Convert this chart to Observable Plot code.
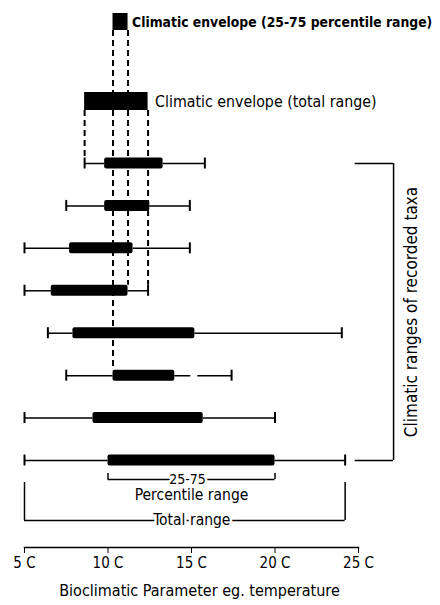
<!DOCTYPE html>
<html><head><meta charset="utf-8">
<script src="https://cdn.jsdelivr.net/npm/d3@7"></script>
<script src="https://cdn.jsdelivr.net/npm/@observablehq/plot@0.6"></script>
<style>
body{margin:0;background:#fff;}
#chart svg{display:block}
</style></head><body><div id="chart"></div>
<script>
// ---- data ----
const taxa     = [1, 2, 3, 4, 5, 6, 7, 8];
const minVals  = [8.6, 7.5, 5.0, 5.0, 6.4, 7.5, 5.0, 5.0];
const q1Vals   = [9.8, 9.8, 7.7, 6.6, 7.9, 10.3, 9.1, 10.0];
const q3Vals   = [13.3, 12.5, 11.5, 11.2, 15.2, 14.0, 15.7, 20.0];
const maxVals  = [15.8, 14.9, 14.9, 12.4, 24.0, 17.4, 20.0, 24.2];
const dashedRightWhisker = [false, false, false, false, false, true, false, false];
const tickValues = [5, 10, 15, 20, 25];
const tickLabels = ["5 C", "10 C", "15 C", "20 C", "25 C"];
const envelopeLabels = ["Climatic envelope (25-75 percentile range)", "Climatic envelope (total range)"];
const keyLabels = ["25-75", "Percentile range", "Total range"];
const sideLabel = "Climatic ranges of recorded taxa";
const axisTitle = "Bioclimatic Parameter eg. temperature";

// ---- table ----
const rows = taxa.map((t, i) => ({row: t, min: minVals[i], q1: q1Vals[i], q3: q3Vals[i], max: maxVals[i], dashed: dashedRightWhisker[i]}));

// envelopes derived from the data
const pLo = d3.greatest(rows, d => d.q1), pHi = d3.least(rows, d => d.q3);
const tLo = d3.greatest(rows, d => d.min), tHi = d3.least(rows, d => d.max);

// ---- layout (row units; 1 row = PX px) ----
const PX = (460 - 163) / 7;
const u = p => p / PX;
const envPctY = 1 + u(21.5 - 163), envTotY = 1 + u(101 - 163);
const boxH = u(5.5), capH = u(5.5), envPctH = u(8.5), envTotH = u(9);
const last = rows[rows.length - 1];
const brY = last.row + u(19), brTick = u(6);
const pctTextY = last.row + u(35);
const totTop = last.row + u(22), totY = last.row + u(60);
const sideX1 = 24.8, sideX2 = 27.1, sideTextX = 28.2;

const FONT = '"Liberation Sans Narrow", "DejaVu Sans Condensed", "Roboto Condensed", sans-serif';

const dashLines = [
  {x: pLo.q1, y1: envPctY + envPctH, y2: pLo.row - boxH},
  {x: pHi.q3, y1: envPctY + envPctH, y2: pHi.row - boxH},
  {x: tLo.min, y1: envTotY + envTotH, y2: tLo.row - capH},
  {x: tHi.max, y1: envTotY + envTotH, y2: tHi.row - capH}
];

const chart = Plot.plot({
  width: 440, height: 605,
  marginLeft: 24, marginRight: 82, marginTop: 0, marginBottom: 58,
  style: {fontFamily: FONT, fontSize: "15px", color: "#000", background: "#fff"},
  x: {domain: [5, 25]},
  y: {domain: [1, 8], range: [163, 460], axis: null},
  marks: [
    // dashed links from envelopes
    Plot.ruleX(dashLines, {x: "x", y1: "y1", y2: "y2", stroke: "#000", strokeWidth: 2, strokeDasharray: "6,4"}),
    // envelopes
    Plot.rect([{x1: pLo.q1, x2: pHi.q3}], {x1: "x1", x2: "x2", y1: envPctY - envPctH, y2: envPctY + envPctH, fill: "#000"}),
    Plot.rect([{x1: tLo.min, x2: tHi.max}], {x1: "x1", x2: "x2", y1: envTotY - envTotH, y2: envTotY + envTotH, fill: "#000"}),
    Plot.text([envelopeLabels[0]], {x: pHi.q3, y: envPctY, text: d => d, textAnchor: "start", dx: 4, dy: 1, fontWeight: "bold", fontSize: 13.8}),
    Plot.text([envelopeLabels[1]], {x: tHi.max, y: envTotY, text: d => d, textAnchor: "start", dx: 7, fontSize: 15.8}),
    // whiskers
    Plot.ruleY(rows, {y: "row", x1: "min", x2: "q1", stroke: "#000", strokeWidth: 1.5}),
    Plot.ruleY(rows.filter(d => !d.dashed), {y: "row", x1: "q3", x2: "max", stroke: "#000", strokeWidth: 1.5}),
    Plot.ruleY(rows.filter(d => d.dashed), {y: "row", x1: "q3", x2: "max", stroke: "#000", strokeWidth: 1.5, strokeDasharray: "16,7,200"}),
    Plot.ruleX(rows, {x: "min", y1: d => d.row - capH, y2: d => d.row + capH, stroke: "#000", strokeWidth: 2}),
    Plot.ruleX(rows, {x: "max", y1: d => d.row - capH, y2: d => d.row + capH, stroke: "#000", strokeWidth: 2}),
    // boxes
    Plot.rect(rows, {x1: "q1", x2: "q3", y1: d => d.row - boxH, y2: d => d.row + boxH, fill: "#000", rx: 2}),
    // 25-75 key bracket
    Plot.ruleY([last], {y: () => brY, x1: "q1", x2: "q3", stroke: "#000", strokeWidth: 1.5}),
    Plot.ruleX([last.q1, last.q3], {x: d => d, y1: brY - brTick, y2: brY, stroke: "#000", strokeWidth: 1.5}),
    Plot.text([keyLabels[0]], {x: (last.q1 + last.q3) / 2, y: brY, text: d => d, dx: -4, fontSize: 14, stroke: "#fff", strokeWidth: 5, fill: "#000"}),
    Plot.text([keyLabels[1]], {x: (last.q1 + last.q3) / 2, y: pctTextY, text: d => d, fontSize: 15.5}),
    // total range key bracket
    Plot.ruleX([last.min, last.max], {x: d => d, y1: totTop, y2: totY, stroke: "#000", strokeWidth: 1.5}),
    Plot.ruleY([last], {y: () => totY, x1: "min", x2: "max", stroke: "#000", strokeWidth: 1.5}),
    Plot.text([keyLabels[2]], {x: (last.min + last.max) / 2, y: totY, text: d => d, dx: 7, fontSize: 15.5, stroke: "#fff", strokeWidth: 5, fill: "#000"}),
    // side bracket
    Plot.ruleY([rows[0].row, last.row], {y: d => d, x1: sideX1, x2: sideX2, stroke: "#000", strokeWidth: 1.5}),
    Plot.ruleX([sideX2], {x: d => d, y1: rows[0].row, y2: last.row, stroke: "#000", strokeWidth: 1.5}),
    Plot.text([sideLabel], {x: sideTextX, y: (rows[0].row + last.row) / 2, text: d => d, rotate: -90, fontSize: 17}),
    // axis
    Plot.frame({anchor: "bottom", strokeWidth: 1.5}),
    Plot.axisX({ticks: tickValues, tickFormat: (d) => tickLabels[tickValues.indexOf(d)], tickSize: 6, tickPadding: 4, fontSize: 15, label: null}),
    Plot.text([axisTitle], {frameAnchor: "bottom", text: d => d, dy: 48, dx: 8, fontSize: 16})
  ]
});
document.getElementById("chart").append(chart);
</script>
</body></html>
